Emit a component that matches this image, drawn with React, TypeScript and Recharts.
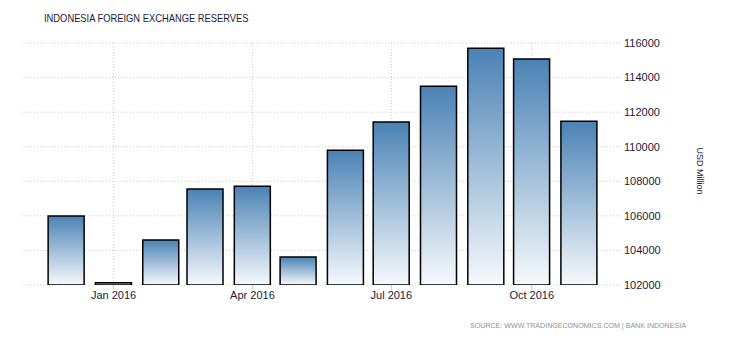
import React from "react";
import { BarChart, Bar, XAxis, YAxis, CartesianGrid } from "recharts";

const months = ["2015-12-01", "2016-01-01", "2016-02-01", "2016-03-01", "2016-04-01", "2016-05-01", "2016-06-01", "2016-07-01", "2016-08-01", "2016-09-01", "2016-10-01", "2016-11-01"];
const reserves = [105990, 102130, 104600, 107550, 107720, 103620, 109800, 111430, 113500, 115700, 115070, 111480];
const tickDates = ["2016-01-01", "2016-04-01", "2016-07-01", "2016-10-01"];
const tickLabels = ["Jan 2016", "Apr 2016", "Jul 2016", "Oct 2016"];
const yTicks = [102000, 104000, 106000, 108000, 110000, 112000, 114000, 116000];

const origin = Date.UTC(2015, 11, 1);
const toDay = (s: string) => {
  const [y, m, d] = s.split("-").map(Number);
  return (Date.UTC(y, m - 1, d) - origin) / 86400000;
};

const data = months.map((m, i) => ({ day: toDay(m), value: reserves[i] }));
const xTicks = tickDates.map(toDay);
const labelFor = (v: number) => {
  const idx = xTicks.indexOf(v);
  return idx >= 0 ? tickLabels[idx] : "";
};

const FONT = "'Liberation Sans', Arial, sans-serif";
const TICK_COLOR = "#1a1a3c";

export default function App() {
  return (
    <div style={{ position: "absolute", left: 0, top: 0, width: 730, height: 340, background: "#fff", fontFamily: FONT }}>
      <div style={{ position: "absolute", left: 44, top: 12, fontSize: 11, color: "#1a1a3c", whiteSpace: "nowrap", transform: "scaleX(0.85)", transformOrigin: "left center" }}>
        INDONESIA FOREIGN EXCHANGE RESERVES
      </div>
      <BarChart width={730} height={340} data={data} margin={{ top: 43, right: 29, bottom: 25, left: 22 }}>
        <defs>
          <linearGradient id="barGrad" x1="0" y1="0" x2="0" y2="1">
            <stop offset="0%" stopColor="#4a82b5" />
            <stop offset="100%" stopColor="#f6f9fc" />
          </linearGradient>
        </defs>
        <CartesianGrid
          stroke="#cccccc"
          strokeDasharray="1 2"
          verticalCoordinatesGenerator={(props: any) => {
            const scale = props?.xAxis?.scale;
            if (scale && typeof scale === "function") return xTicks.map((t) => scale(t));
            if (scale && typeof scale.map === "function") return xTicks.map((t) => scale.map(t));
            const w = props.offset.width;
            const l = props.offset.left;
            return xTicks.map((t) => l + ((t + 29) / 392.5) * w);
          }}
        />
        <XAxis
          dataKey="day"
          type="number"
          domain={[-29, 363.5]}
          ticks={xTicks}
          tickFormatter={labelFor}
          axisLine={false}
          tickLine={{ stroke: "#cccccc" }}
          tickSize={5}
          tickMargin={1}
          height={30}
          tick={{ fill: TICK_COLOR, fontSize: 11, fontFamily: FONT }}
          allowDataOverflow
        />
        <YAxis
          orientation="right"
          domain={[102000, 116000]}
          ticks={yTicks}
          axisLine={false}
          tickLine={false}
          tickSize={0}
          tickMargin={3}
          width={80}
          tick={{ fill: TICK_COLOR, fontSize: 11, fontFamily: FONT, textAnchor: "start" }}
          allowDataOverflow
        />
        <Bar dataKey="value" barSize={36} fill="url(#barGrad)" stroke="#000" strokeWidth={1.5} isAnimationActive={false} />
      </BarChart>
      <div style={{ position: "absolute", left: 700, top: 171, transform: "translate(-50%, -50%) rotate(90deg)", fontSize: 9, color: "#1a1a3c", whiteSpace: "nowrap" }}>
        USD Million
      </div>
      <div style={{ position: "absolute", right: 44, top: 321, fontSize: 8, color: "#8a8fa3", whiteSpace: "nowrap", transform: "scaleX(0.885)", transformOrigin: "right center" }}>
        SOURCE: WWW.TRADINGECONOMICS.COM | BANK INDONESIA
      </div>
    </div>
  );
}
